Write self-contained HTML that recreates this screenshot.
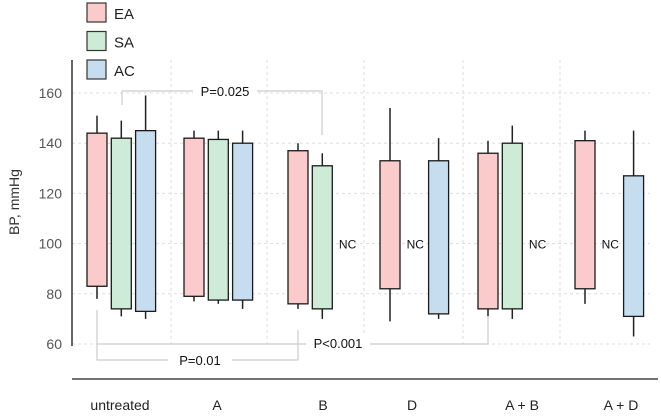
<!DOCTYPE html>
<html><head><meta charset="utf-8"><style>
body{margin:0;background:#fff}
svg{font-family:"Liberation Sans",sans-serif}
</style></head><body>
<svg id="c" width="661" height="412">
<g id="grid"></g><g id="marks"></g><g id="ann"></g>
</svg>
<script>
const categories=["untreated","A","B","D","A + B","A + D"];
const series=["EA","SA","AC"];
const colors=["#fbcaca","#cdebd7","#c6dcef"];
// [top mean, bottom mean, upper whisker, lower whisker]; null = NC
const EA=[[144,83,151,78],[142,79,145,77],[137,76,140,74],[133,82,154,69],[136,74,141,71],[141,82,145,76]];
const SA=[[142,74,149,71],[141.5,77.5,145,76],[131,74,136,70],null,[140,74,147,70],null];
const AC=[[145,73,159,70],[140,77.5,145,74],null,[133,72,142,70],null,[127,71,145,63]];
const yTicks=[60,80,100,120,140,160];
const labelCenters=[120,217,323,412,522,621];
const groupLeft=[87,184,288,380,478,575];
const ns="http://www.w3.org/2000/svg";
function y(v){return 344-(v-60)*2.51;}
function mk(p,t,a,txt){const e=document.createElementNS(ns,t);for(const k in a)e.setAttribute(k,a[k]);if(txt!==undefined)e.textContent=txt;p.appendChild(e);return e;}
const G=document.getElementById('grid'),M=document.getElementById('marks'),A=document.getElementById('ann');
yTicks.forEach(t=>{
 let l=mk(G,'line',{x1:72,x2:650,y1:y(t),y2:y(t),stroke:'#ddd','stroke-dasharray':'3,3'});
 
 let tx=mk(G,'text',{x:62,y:y(t)+5,'text-anchor':'end','font-size':14,fill:'#555'},t);
 
});
[171,267,364,463,560].forEach(x=>{
 let l=mk(G,'line',{x1:x,x2:x,y1:60,y2:344,stroke:'#ddd','stroke-dasharray':'3,3'});
 
});
let ya=mk(G,'line',{x1:72,x2:72,y1:60,y2:346,stroke:'#333','stroke-width':1.5});

let xa=mk(G,'line',{x1:72,x2:658,y1:379,y2:379,stroke:'#444','stroke-width':1.5});

let yl=mk(G,'text',{x:0,y:0,transform:'translate(19,202) rotate(-90)','text-anchor':'middle','font-size':14,fill:'#333'},'BP, mmHg');

const data=[EA,SA,AC];
categories.forEach((c,i)=>{
 let t=mk(G,'text',{x:labelCenters[i],y:410,'text-anchor':'middle','font-size':14,fill:'#222'},c);
 
 [0,1,2].forEach(s=>{
  const x0=groupLeft[i]+s*24.3;
  const d=data[s][i];
  if(!d){
   let n=mk(M,'text',{x:x0+11,y:y(100)+5,'text-anchor':'middle','font-size':12,fill:'#111'},'NC');
   
   return;
  }
  let w=mk(M,'line',{x1:x0+10,x2:x0+10,y1:y(d[2]),y2:y(d[3]),stroke:'#222','stroke-width':1.5});
  
  let r=mk(M,'rect',{x:x0,y:y(d[0]),width:20,height:y(d[1])-y(d[0]),fill:colors[s],stroke:'#1a1a1a','stroke-width':1.3});
  
 });
});
function path(d,name){let p=mk(A,'path',{d:d,fill:'none',stroke:'#ccc','stroke-width':1.2});}
function lab(x,yy,t,name){mk(A,'rect',{x:x-32,y:yy-9,width:64,height:18,fill:'#fff'});let e=mk(A,'text',{x:x,y:yy+5,'text-anchor':'middle','font-size':13,fill:'#111'},t);}
path('M122,105 V91 H322 V135','bracket-p025');lab(225,91,'P=0.025','p-value-0025');
path('M97,310 V360 H298 V330','bracket-p001');lab(200,360,'P=0.01','p-value-001');
path('M97,344 H488 V316','bracket-p0001');lab(338,343,'P<0.001','p-value-0001');
series.forEach((s,i)=>{
 const yy=3+i*28.5;
 let r=mk(G,'rect',{x:87,y:yy,width:19,height:19,fill:colors[i],stroke:'#333','stroke-width':1.2});
 
 let t=mk(G,'text',{x:114,y:yy+16,'font-size':15,fill:'#222'},s);
 
});
</script>
</body></html>
